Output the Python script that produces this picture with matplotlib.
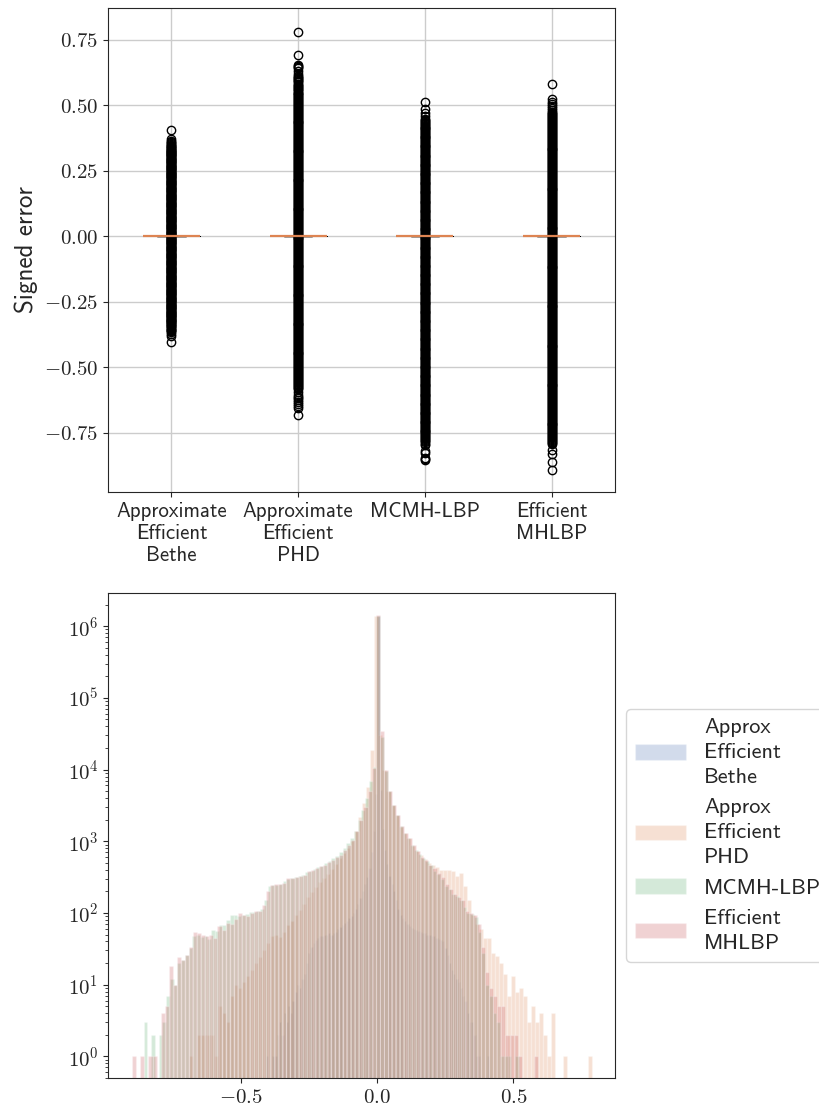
import numpy as np
import matplotlib
matplotlib.use("Agg")
import matplotlib.pyplot as plt
import matplotlib.ticker as mticker
import seaborn as sns

# --- data: per-method error histograms (100 bins over each method's own range) ---
box_labels = ["Approximate\nEfficient\nBethe", "Approximate\nEfficient\nPHD",
              "MCMH-LBP", "Efficient\nMHLBP"]
hist_labels = ["Approx\nEfficient\nBethe", "Approx\nEfficient\nPHD",
               "MCMH-LBP", "Efficient\nMHLBP"]

bethe_range = (-0.41, 0.41)
bethe_counts = [
    1, 0, 0, 1, 1, 2, 3, 2, 4, 3,
    5, 4, 6, 8, 10, 9, 12, 14, 20, 28,
    33, 38, 42, 45, 47, 48, 50, 49, 52, 50,
    53, 55, 60, 64, 68, 72, 78, 85, 92, 100,
    112, 135, 160, 200, 250, 320, 420, 700, 1400, 4500,
    1400000, 5200, 1500, 750, 480, 330, 250, 200, 150, 115,
    95, 85, 78, 70, 65, 62, 60, 58, 56, 55,
    53, 52, 50, 49, 48, 47, 45, 44, 42, 40,
    32, 26, 20, 16, 14, 12, 11, 9, 7, 6,
    4, 3, 3, 2, 1, 1, 0, 0, 0, 1,
]

phd_range = (-0.69, 0.787)
phd_counts = [
    1, 0, 2, 2, 2, 2, 1, 5, 4, 3,
    7, 10, 9, 11, 13, 16, 20, 24, 30, 38,
    48, 50, 46, 55, 68, 78, 95, 110, 135, 165,
    195, 230, 270, 310, 350, 410, 480, 580, 680, 800,
    1000, 1400, 2200, 3400, 5800, 19000, 1380000, 30000, 9800, 5000,
    3200, 2300, 1600, 1300, 1100, 850, 720, 640, 560, 500,
    460, 440, 400, 400, 400, 390, 330, 360, 240, 150,
    95, 70, 60, 45, 45, 28, 25, 20, 14, 7,
    13, 8, 9, 7, 3, 5, 3, 4, 2, 1,
    4, 0, 0, 1, 0, 0, 0, 0, 0, 1,
]

mcmh_range = (-0.858, 0.52)
mcmh_counts = [
    3, 0, 2, 0, 2, 3, 7, 12, 10, 20,
    22, 26, 32, 48, 50, 46, 48, 44, 58, 56,
    68, 68, 80, 94, 94, 90, 94, 98, 102, 104,
    106, 112, 150, 235, 245, 248, 255, 280, 300, 310,
    315, 328, 335, 370, 390, 410, 435, 455, 500, 535,
    580, 620, 700, 800, 960, 1100, 1400, 2000, 2700, 4000,
    7000, 10700, 1400000, 28000, 9500, 5000, 3200, 2300, 1650, 1300,
    1120, 900, 760, 660, 590, 530, 460, 390, 350, 300,
    240, 215, 185, 170, 150, 120, 100, 96, 88, 55,
    28, 10, 7, 4, 3, 1, 1, 1, 0, 1,
]

mhlbp_range = (-0.90, 0.59)
mhlbp_counts = [
    1, 0, 1, 0, 1, 1, 0, 4, 5, 18,
    10, 24, 22, 26, 34, 55, 52, 50, 47, 50,
    45, 65, 58, 72, 70, 82, 100, 95, 92, 100,
    105, 108, 130, 200, 247, 250, 250, 265, 305, 310,
    315, 330, 335, 380, 395, 420, 445, 470, 520, 550,
    600, 650, 760, 880, 1050, 1400, 2000, 3000, 5000, 10500,
    1430000, 34000, 10000, 5100, 3200, 2350, 1620, 1300, 1100, 900,
    720, 610, 540, 470, 420, 360, 320, 250, 215, 185,
    168, 150, 105, 100, 94, 70, 34, 15, 9, 7,
    5, 5, 2, 2, 2, 1, 0, 0, 0, 1,
]

ranges = [bethe_range, phd_range, mcmh_range, mhlbp_range]
counts = [bethe_counts, phd_counts, mcmh_counts, mhlbp_counts]

# --- style ---
sns.set_style("ticks")
sns.set_palette("deep")
plt.rcParams["font.family"] = ["cmss10", "DejaVu Sans"]
plt.rcParams["mathtext.fontset"] = "cm"
plt.rcParams["mathtext.default"] = "rm"
plt.rcParams["axes.unicode_minus"] = False
plt.rcParams["axes.formatter.use_mathtext"] = False

fig = plt.figure(figsize=(8.19, 11.13), dpi=100)
ax1 = fig.add_axes([0.1319, 0.558, 0.619, 0.4349])
ax2 = fig.add_axes([0.1319, 0.0315, 0.619, 0.4357])

# --- top: boxplot (every non-zero error is an outlier) ---
# outliers are placed inside the histogram bins they fall in (up to 4 per bin)
stats = []
for (lo, hi), c, lab in zip(ranges, counts, box_labels):
    edges = np.linspace(lo, hi, len(c) + 1)
    w = edges[1] - edges[0]
    fl = []
    for i, n in enumerate(c):
        m = min(n, 4)
        fl.extend(edges[i] + w * (np.arange(m) + 0.5) / max(m, 1))
    stats.append(dict(med=0.0, q1=0.0, q3=0.0, whislo=0.0, whishi=0.0,
                      fliers=np.array(fl), label=lab))
ax1.bxp(stats, positions=[1, 2, 3, 4],
        boxprops=dict(linewidth=0.6),
        medianprops=dict(linewidth=1.6))
ax1.grid(True, color=".8", linewidth=1)
ax1.set_axisbelow(True)
ax1.set_ylim(-0.977, 0.872)
ax1.set_xlim(0.5, 4.5)
ax1.yaxis.set_major_locator(mticker.FixedLocator([-0.75, -0.5, -0.25, 0, 0.25, 0.5, 0.75]))
ax1.yaxis.set_major_formatter(mticker.FuncFormatter(lambda v, p: f"${v:.2f}$"))
ax1.set_ylabel("Signed error", fontsize=18)
ax1.tick_params(axis="y", labelsize=15)
ax1.tick_params(axis="x", labelsize=15)

# --- bottom: overlapping histograms, log scale ---
for (lo, hi), c, lab in zip(ranges, counts, hist_labels):
    edges = np.linspace(lo, hi, len(c) + 1)
    ax2.hist(edges[:-1], bins=edges, weights=c, alpha=0.25, label=lab, log=True)

ax2.set_xlim(-0.989, 0.873)
ax2.set_ylim(0.5, 2.9e6)
ax2.xaxis.set_major_locator(mticker.FixedLocator([-0.5, 0.0, 0.5]))
ax2.xaxis.set_major_formatter(mticker.FuncFormatter(lambda v, p: f"${v:.1f}$"))
ax2.yaxis.set_major_locator(mticker.FixedLocator([1e0, 1e1, 1e2, 1e3, 1e4, 1e5, 1e6]))
ax2.yaxis.set_major_formatter(
    mticker.FuncFormatter(lambda v, p: f"$10^{{{int(round(np.log10(v)))}}}$"))
ax2.yaxis.set_minor_locator(mticker.LogLocator(base=10, subs=np.arange(2, 10), numticks=20))
ax2.yaxis.set_minor_formatter(mticker.NullFormatter())
ax2.tick_params(labelsize=15)
leg = ax2.legend(loc="center left", bbox_to_anchor=(1.0, 0.5), fontsize=16,
                 frameon=True, edgecolor="0.8", handlelength=2.3)
for t in leg.get_texts():
    t.set_linespacing(1.4)

fig.savefig("out.png", dpi=100)
